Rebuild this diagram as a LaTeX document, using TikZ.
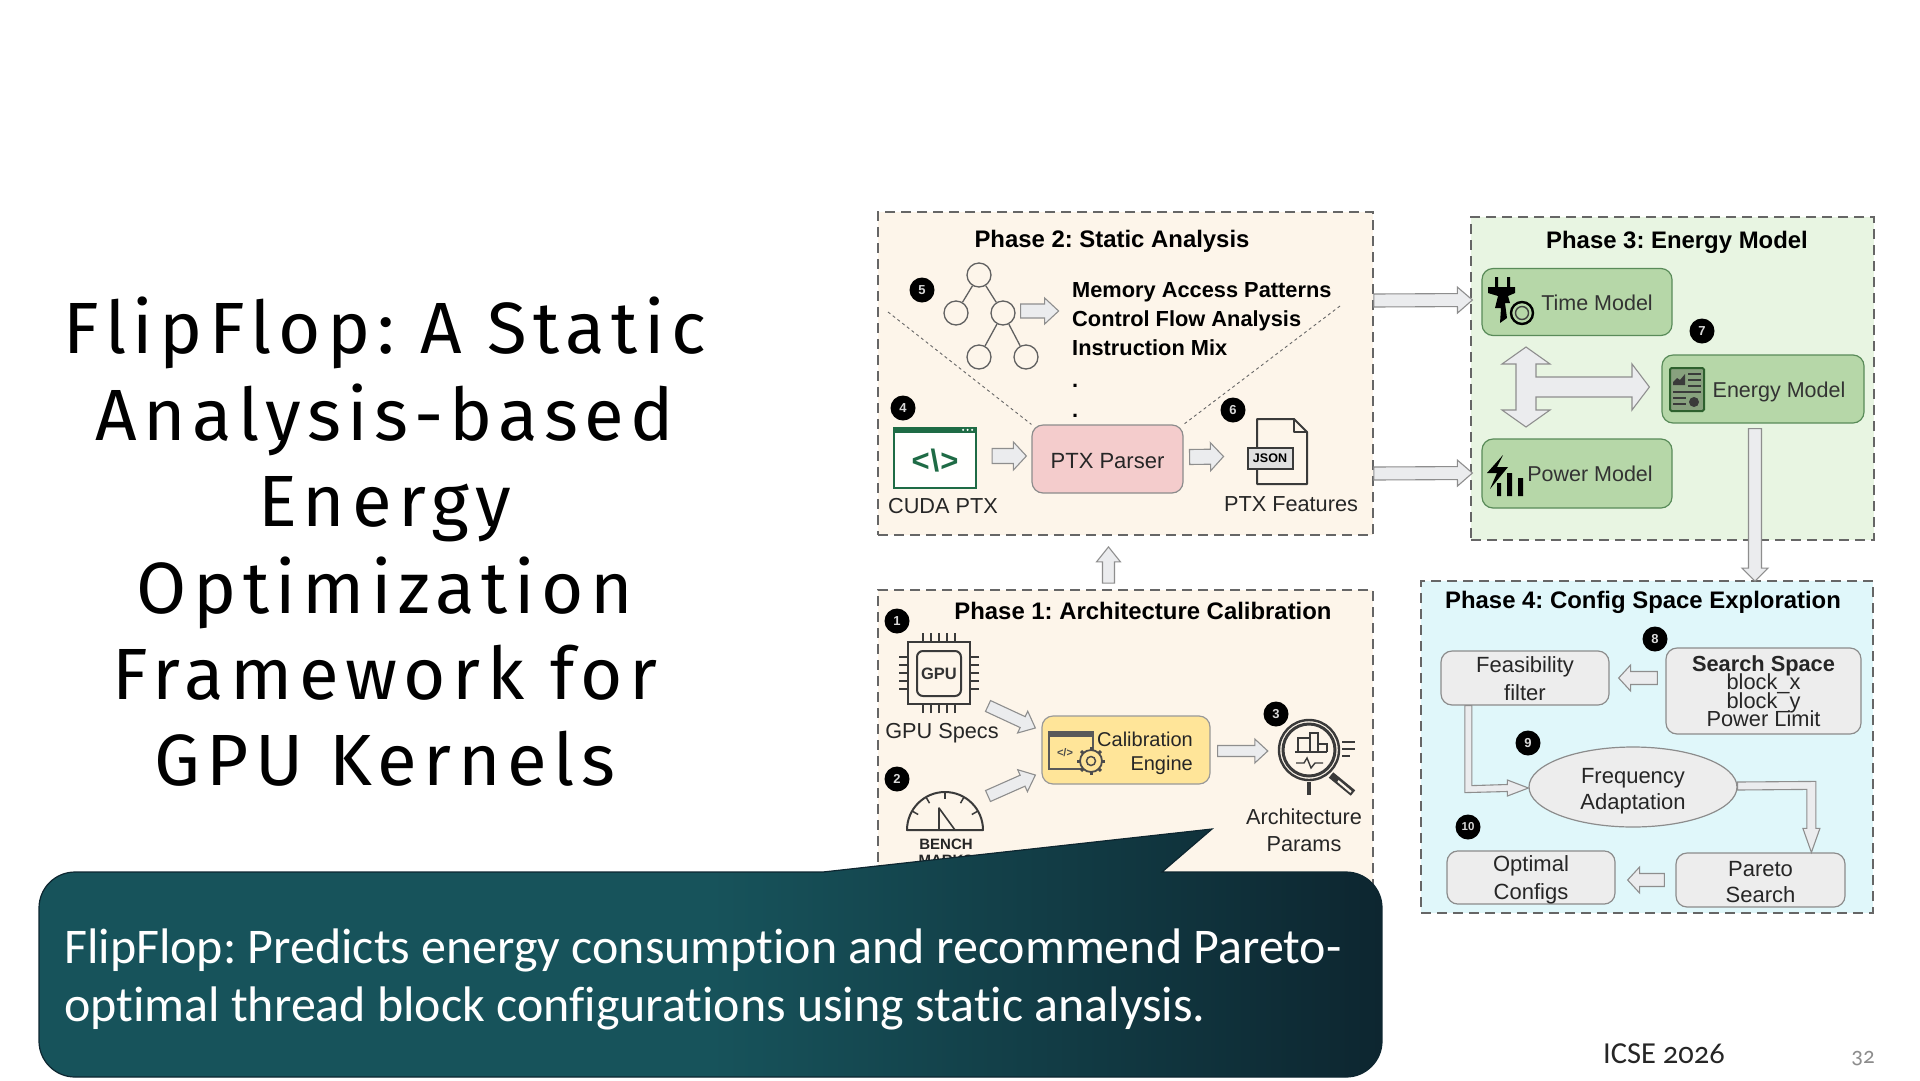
\documentclass[tikz,border=0pt]{standalone}
\usepackage{fontspec}
\setmainfont{Liberation Sans}
\newfontfamily\ttlfont[LetterSpace=9]{Fira Sans}
\newfontfamily\slidefont[Numbers=OldStyle,Ligatures=NoCommon]{Carlito}
\usetikzlibrary{calc,shapes.geometric}
\definecolor{arrfill}{HTML}{EBECEE}
\definecolor{arrline}{HTML}{8E8E8E}
\definecolor{icondark}{HTML}{3A3A3A}
\definecolor{warmbg}{HTML}{FDF5EA}
\definecolor{greenbg}{HTML}{E8F5E2}
\definecolor{bluebg}{HTML}{E0F7FA}
\definecolor{dashc}{HTML}{666666}
\definecolor{teal1}{HTML}{17535B}
\definecolor{teal2}{HTML}{0D2630}
\definecolor{cudagreen}{HTML}{1E6B45}
\definecolor{gboxfill}{HTML}{B6D7A8}
\definecolor{pinkfill}{HTML}{F4CCCC}
\definecolor{yelfill}{HTML}{FFE599}
\pgfdeclarehorizontalshading{calloutsh}{100bp}{color(0bp)=(teal1);color(25bp)=(teal1);color(50bp)=(teal1);color(75bp)=(teal2);color(100bp)=(teal2)}
\newcommand{\fs}[1]{\fontsize{#1}{#1}\selectfont}
\newcommand{\fl}[2]{\fontsize{#1}{#2}\selectfont\lineskiplimit=-50pt\relax}
\newcommand{\sk}[1]{\rule{0pt}{#1pt}}
\newcommand{\barrow}[5]{\draw[blockarrow] let \p1=#1,\p2=#2,\n1={atan2(\y2-\y1,\x2-\x1)},\n2={veclen(\x2-\x1,\y2-\y1)} in [shift={(\p1)},rotate=\n1] (0pt,#3pt) -- ({\n2-#5pt},#3pt) -- ({\n2-#5pt},#4pt) -- (\n2,0pt) -- ({\n2-#5pt},-#4pt) -- ({\n2-#5pt},-#3pt) -- (0pt,-#3pt) -- cycle;}
\tikzset{
 phasebox/.style={draw=dashc,line width=1.8pt,dash pattern=on 10pt off 6pt},
 phasetitle/.style={font=\bfseries\fs{23.9},text=black,inner sep=0pt},
 featline/.style={font=\bfseries\fs{21.8},text=black,anchor=base west,inner sep=0pt},
 badge/.style={circle,fill=black,text=white!85!black,inner sep=0pt,minimum size=25pt,font=\bfseries\fs{13}},
 procbox/.style={draw=#1,line width=1.2pt,rounded corners=11pt,align=center,inner sep=0pt},
 blockarrow/.style={draw=arrline,fill=arrfill,line width=1.1pt,line join=miter},
 lbl/.style={font=\fs{21.7},text=black!85,inner sep=0pt,align=center},
 treenode/.style={circle,draw=black!62,line width=1.3pt,minimum size=24pt,inner sep=0pt},
 treeedge/.style={draw=black!62,line width=1.3pt},
 guide/.style={draw=black!60,line width=.9pt,dash pattern=on 3pt off 3pt},
 icon/.style={draw=icondark,line width=1.6pt},
 pin/.style={draw=icondark,line width=1.5pt},
 gbox/.style={procbox=black!35!green!30!gray,fill=gboxfill,font=\fs{21.5},text=black!80},
 gybox/.style={procbox=black!45,fill=black!7,text=black!85},
}
\begin{document}
\frenchspacing
\begin{tikzpicture}[x=1pt,y=-1pt]
\useasboundingbox (0,0) rectangle (1920,1080);
\fill[white] (0,0) rectangle (1920,1080);

%% title
\node[align=center,text=black,inner sep=0pt,font=\ttlfont\fontsize{72.6}{86.4}\selectfont] (title) at (385,542) {FlipFlop: A Static\\Analysis-based\\Energy\\Optimization\\Framework for\\GPU Kernels};

%% phase panels
\node[phasebox,fill=warmbg,minimum width=495pt,minimum height=323pt,inner sep=0pt] (ph2) at (1125.5,373.5) {};
\node[phasebox,fill=warmbg,minimum width=495pt,minimum height=300pt,inner sep=0pt] (ph1) at (1125.5,740) {};
\node[phasebox,fill=greenbg,minimum width=403pt,minimum height=323pt,inner sep=0pt] (ph3) at (1672.5,378.5) {};
\node[phasebox,fill=bluebg,minimum width=452pt,minimum height=332pt,inner sep=0pt] (ph4) at (1647,747) {};

\node[phasetitle] (t2) at (1112,241) {Phase 2: Static Analysis};
\node[phasetitle] (t1) at (1143,611) {Phase 1: Architecture Calibration};
\node[phasetitle] (t3) at (1677,242) {Phase 3: Energy Model};
\node[phasetitle] (t4) at (1643,602) {Phase 4: Config Space Exploration};

%% ---- Phase 2
\coordinate (g1a) at (888,312); \coordinate (g2a) at (1340,306);
\node[procbox=black!45,fill=pinkfill,minimum width=151pt,minimum height=68pt,font=\fs{22},text=black!85] (ptx) at (1107.5,459) {\sk{20}PTX Parser};
\draw[guide] (g1a) -- (ptx.north west);
\draw[guide] (g2a) -- (ptx.north east);
\node[treenode] (n1) at (979,275) {};
\node[treenode] (n2) at (956,313) {};
\node[treenode] (n3) at (1003,313) {};
\node[treenode] (n4) at (979,357) {};
\node[treenode] (n5) at (1026,357) {};
\draw[treeedge] (n1) -- (n2); \draw[treeedge] (n1) -- (n3);
\draw[treeedge] (n3) -- (n4); \draw[treeedge] (n3) -- (n5);
\node[featline] (f1) at (1072,297) {Memory Access Patterns};
\node[featline] (f2) at (1072,326) {Control Flow Analysis};
\node[featline] (f3) at (1072,355) {Instruction Mix};
\node[featline] (f4) at (1072,387) {.};
\node[featline] (f5) at (1072,417) {.};
\barrow{($(n3.east)+(5,-2)$)}{($(n3.east)+(43,-2)$)}{7}{13}{14}
%% CUDA window
\node[draw=cudagreen,line width=2.2pt,fill=white!97!warmbg,minimum width=82pt,minimum height=60pt,inner sep=0pt] (cuda) at (935,458) {};
\fill[cudagreen] (cuda.north west) rectangle ($(cuda.north east)+(0,6)$);
\foreach \dx in {-14,-9.5,-5} \fill[white] ($(cuda.north east)+(\dx,3)$) circle (1.2pt);
\node[text=cudagreen,font=\bfseries\fs{31},inner sep=0pt] (cudacode) at (935,461) {<\kern1pt\textbackslash\kern1pt>};
\node[lbl] (cudal) at (943,506) {CUDA PTX};
\barrow{($(cuda.east)+(15,-2)$)}{($(ptx.west)+(-5,-3)$)}{7.5}{14}{13}
%% JSON doc
\draw[icon,line width=2pt,fill=warmbg,line join=round] (1257,419) -- (1294,419) -- (1307,432) -- (1307,484) -- (1257,484) -- cycle;
\draw[icon,line width=1.6pt,line join=round] (1294,419) -- (1294,432) -- (1307,432);
\node[draw=icondark,line width=2pt,fill=black!12,minimum width=45pt,minimum height=21pt,inner sep=0pt,font=\bfseries\fs{12.5},text=black] (json) at (1270,458.5) {JSON};
\node[lbl] (jsonl) at (1291,504) {PTX Features};
\barrow{($(ptx.east)+(6,-2)$)}{($(json.west)+(-23,-2)$)}{7.5}{14}{13}
\node[badge] (b5) at (922,290) {5};
\node[badge] (b4) at (903,408) {4};
\node[badge] (b6) at (1233,410) {6};

%% ---- Phase 1
\node[draw=icondark,line width=2pt,fill=warmbg,minimum size=62pt,inner sep=0pt] (gpu) at (939,673) {};
\node[draw=icondark,line width=2pt,rounded corners=6pt,minimum width=44pt,minimum height=45pt,inner sep=0pt,font=\bfseries\fs{16.5},text=black!80] (gpuin) at (939,673.5) {GPU};
\foreach \dx in {-16,-8,0,8,16}{
 \draw[pin] ($(gpu.north)+(\dx,-8)$) -- ($(gpu.north)+(\dx,0)$);
 \draw[pin] ($(gpu.south)+(\dx,8)$) -- ($(gpu.south)+(\dx,0)$);
 \draw[pin] ($(gpu.west)+(-8,\dx)$) -- ($(gpu.west)+(0,\dx)$);
 \draw[pin] ($(gpu.east)+(8,\dx)$) -- ($(gpu.east)+(0,\dx)$);
}
\node[lbl] (gpul) at (942,733) {GPU Specs};
%% bench gauge
\coordinate (bc) at (945,830);
\draw[icon,line width=2pt,line join=round] ($(bc)+(-38,0)$) arc[start angle=180,end angle=360,radius=38] -- cycle;
\foreach \a in {30,60,90,120,150} \draw[pin] ($(bc)+({38*cos(\a)},{-38*sin(\a)})$) -- ($(bc)+({31*cos(\a)},{-31*sin(\a)})$);
\draw[icon,line join=round] (939,808) -- (955,830) -- (939,830) -- cycle;
\node[font=\bfseries\fs{15},text=black!85,inner sep=0pt] (bench) at (946,844) {BENCH};
\node[font=\bfseries\fs{15},text=black!85,inner sep=0pt] (mark) at (946,860) {MARKS};
\node[procbox=black!40,fill=yelfill,minimum width=168pt,minimum height=68pt] (cal) at (1126,750) {};
\node[font=\fl{20}{24},text=black!85,align=right,inner sep=0pt,anchor=east] (call) at (1193,753) {Calibration\\Engine};
\draw[draw=black!65,line width=1.8pt,fill=none] (1049,732) rectangle (1093,769);
\fill[black!65] (1049,732) rectangle (1093,737);
\node[font=\bfseries\fs{11},text=black!70,inner sep=0pt] (codeic) at (1065,753) {</>};
\foreach \a in {0,45,...,315}\draw[black!70,line width=3pt] ($(1091,761)+(\a:10pt)$) -- ($(1091,761)+(\a:14pt)$);
\draw[black!70,fill=yelfill,line width=1.8pt] (1091,761) circle (11pt);
\draw[black!70,line width=1.5pt] (1091,761) circle (4.5pt);
\barrow{($(gpu.south east)+(17,1)$)}{($(cal.west)+(-6,-22)$)}{6}{12}{14}
\barrow{($(gpu.south east)+(17,91)$)}{($(cal.west)+(-6,25)$)}{6}{12}{14}
\node[lbl,font=\fl{21.7}{27}] (archl) at (1304,830.5) {Architecture\\Params};
%% magnifier
\node[circle,draw=icondark,line width=2.4pt,minimum size=60pt,inner sep=0pt] (mag) at (1309,750) {};
\draw[icondark,line width=3pt] (mag.center) circle (26pt);
\draw[icondark,line width=1.6pt] (1295,752) -- (1327,752) (1298,752) -- (1298,738) -- (1310,738) -- (1310,752) (1310,733) rectangle (1318,752) (1318,744) -- (1327,744) -- (1327,752);
\draw[icondark,line width=1.4pt] (1296,763) -- (1304,763) -- (1307,758) -- (1311,768) -- (1315,763) -- (1323,763);
\draw[icondark,line width=2pt] (1342,742) -- (1355,742) (1342,749) -- (1355,749) (1342,756) -- (1350,756);
\draw[icondark,line width=4pt] (1309,782) -- (1309,795);
\draw[icondark,line width=7pt] (1331,775) -- (1353,793);
\draw[warmbg,line width=2.2pt] (1338,781) -- (1351,792);
\barrow{($(cal.east)+(7,1)$)}{($(mag.west)+(-10,1)$)}{5.5}{12}{13}
\node[badge] (b1) at (897,621) {1};
\node[badge] (b2) at (897,779) {2};
\node[badge] (b3) at (1276,714) {3};

%% ---- Phase 1 -> 2
\barrow{($(ph1.north)+(-17,-6)$)}{($(ph2.south)+(-17,11)$)}{6}{12}{15}

%% ---- Phase 3
\node[gbox,minimum width=190pt,minimum height=67pt] (tm) at (1577,302) {\sk{17.5}\hspace*{40pt}Time Model};
\node[gbox,minimum width=190pt,minimum height=69pt] (pm) at (1577,473.5) {\hspace*{26pt}Power Model};
\node[gbox,minimum width=202pt,minimum height=68pt] (em) at (1763,389) {\sk{22.4}\hspace*{32pt}Energy Model};
\node[badge] (b7) at (1702,331) {7};
%% plug + gauge
\fill[black] (1495,277) rectangle (1498,288) (1507,277) rectangle (1510,288);
\fill[black] (1488,287) -- (1515,287) -- (1515,293) -- (1508,296) -- (1510,303) -- (1505,303) -- (1507,318) -- (1500,323) -- (1501,308) -- (1495,308) -- (1498,296) -- (1488,293) -- cycle;
\draw[black,line width=2.4pt,fill=gboxfill] (1522,313) circle (11pt);
\draw[black!75,line width=1.4pt] (1522,313) circle (6.5pt);
%% power icon
\fill[black] (1503,455) -- (1487,473) -- (1497,473) -- (1490,489) -- (1508,467) -- (1497,467) -- cycle;
\fill[black] (1497,483) rectangle (1501,496) (1507,473) rectangle (1512,496) (1518,478) rectangle (1523,496);
%% energy icon
\draw[draw=icondark!80!green,line width=2pt,fill=gboxfill!75!black,rounded corners=1.5pt] (1670,368) rectangle (1704,411);
\fill[icondark] (1673,382) -- (1677,378) -- (1680,380) -- (1685,374) -- (1685,385) -- (1673,385) -- cycle;
\draw[icondark,line width=1.6pt] (1688,374) -- (1701,374) (1688,380) -- (1701,380) (1688,386) -- (1701,386) (1673,392) -- (1701,392) (1673,398) -- (1686,398) (1673,404) -- (1686,404);
\fill[icondark] (1694,402) circle (5pt);
%% double + horizontal arrow
\coordinate (crosse) at ($(em.west)+(-12,-2)$);
\draw[blockarrow] (1526,347) -- (1550,364) -- (1536,364) -- (1536,377) -- (1632,377) -- (1632,364) -- (crosse) -- (1632,410) -- (1632,397) -- (1536,397) -- (1536,410) -- (1550,410) -- (1526,427) -- (1502,410) -- (1516,410) -- (1516,364) -- (1502,364) -- cycle;
%% arrows into phase 3 and out
\barrow{($(ph2.east)+(0,-73)$)}{($(tm.west)+(-9,-2)$)}{6.5}{13}{15}
\barrow{($(ph2.east)+(0,100)$)}{($(pm.west)+(-9,-0.5)$)}{6.5}{13}{15}
\barrow{($(em.south)+(-8,5)$)}{($(ph4.north)+(108,1)$)}{6.5}{13}{13}

%% ---- Phase 4
\node[gybox,font=\fl{22}{28},minimum width=168pt,minimum height=54pt] (feas) at (1525,678) {\sk{18}Feasibility\\filter};
\node[gybox,font=\fl{21.8}{18.5},minimum width=195pt,minimum height=86pt] (ss) at (1763.5,691) {\textbf{Search Space}\\block\_x\\block\_y\\Power Limit};
\node[ellipse,draw=black!45,line width=1.2pt,fill=black!7,minimum width=208pt,minimum height=80pt,inner sep=0pt,align=center,text=black!85,font=\fl{22}{26}] (freq) at (1633,787) {\sk{23.2}Frequency\\Adaptation};
\node[gybox,font=\fl{22}{26},minimum width=169pt,minimum height=54pt] (par) at (1760.5,880) {\sk{18.2}Pareto\\Search};
\node[gybox,font=\fl{22}{28},minimum width=168pt,minimum height=53pt] (opt) at (1531,877.5) {\sk{20.6}Optimal\\Configs};
\barrow{($(ss.west)+(-8,-13)$)}{($(feas.east)+(9,0)$)}{6.5}{13}{12}
\barrow{($(par.west)+(-11,0)$)}{($(opt.east)+(12,2.5)$)}{6.5}{13}{12}
\coordinate (e1s) at ($(feas.south west)+(28,0)$);
\coordinate (e1t) at ($(freq.west)+(0,1)$);
\draw[blockarrow] ($(e1s)+(-3.5,0)$) -- ($(e1s)+(3.5,0)$) -- ($(e1s)+(3.5,80)$) -- ($(e1t)+(-21,-3.5)$) -- ($(e1t)+(-21,-8)$) -- (e1t) -- ($(e1t)+(-21,8)$) -- ($(e1t)+(-21,3.5)$) -- ($(e1s)+(-3.5,87)$) -- cycle;
\coordinate (e2s) at ($(freq.east)+(0,-1)$);
\coordinate (e2t) at ($(par.north west)+(136,0)$);
\draw[blockarrow] ($(e2s)+(0,-4)$) -- ($(e2t)+(4.5,-71)$) -- ($(e2t)+(4.5,-24)$) -- ($(e2t)+(8.5,-24)$) -- (e2t) -- ($(e2t)+(-8.5,-24)$) -- ($(e2t)+(-4.5,-24)$) -- ($(e2t)+(-4.5,-63)$) -- ($(e2s)+(0,4)$) -- cycle;
\node[badge] (b8) at (1655,639) {8};
\node[badge] (b9) at (1528,743) {9};
\node[badge,font=\bfseries\fs{11.5}] (b10) at (1468,827) {10};

%% ---- Callout
\shadedraw[shading=calloutsh,draw=teal2,line width=1.2pt] (823,872) -- (1212,829) -- (1162,872) [rounded corners=36pt] -- (1382,872) -- (1382,1077) -- (39,1077) -- (39,872) [sharp corners] -- (823,872) -- cycle;
\node[anchor=base west,text=white,inner sep=0pt,font=\slidefont\fs{49.95}] (c1) at (64,963) {FlipFlop: Predicts energy consumption and recommend Pareto-};
\node[anchor=base west,text=white,inner sep=0pt,font=\slidefont\fs{49.95}] (c2) at (64,1021) {optimal thread block configurations using static analysis.};

%% footer
\node[anchor=base,text=black!85,inner sep=0pt,font=\slidefont\fs{30.5}] (conf) at (1664,1063) {ICSE 2026};
\node[anchor=base,text=black!45,inner sep=0pt,font=\slidefont\fs{23}] (pg) at (1863,1063) {32};
\end{tikzpicture}
\end{document}
